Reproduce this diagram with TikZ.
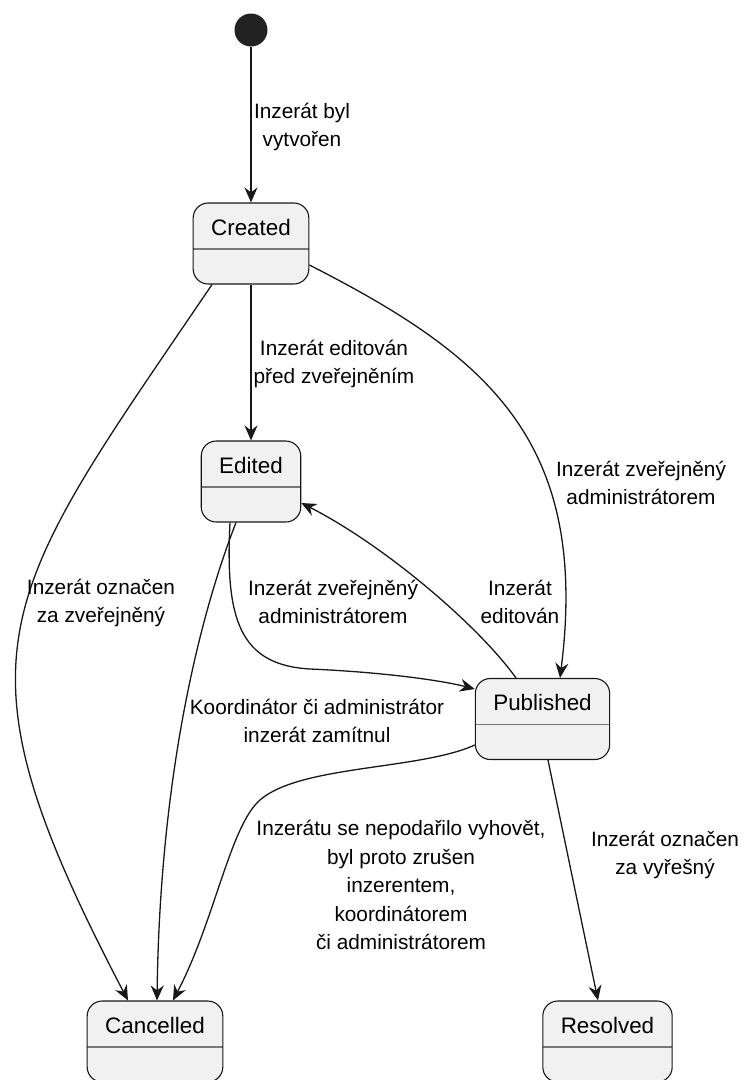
\documentclass[tikz,border=0pt]{standalone}
\usepackage{fontspec}
\setmainfont{Liberation Sans}
\usetikzlibrary{arrows.meta}
\definecolor{statefill}{HTML}{F1F1F1}
\definecolor{stateline}{HTML}{181818}
\definecolor{splitline}{HTML}{777777}
\definecolor{startfill}{HTML}{222222}

\begin{document}
\begin{tikzpicture}[x=1pt, y=-1pt,
		>={Stealth[length=15pt, width=13pt, inset=5pt]},
		state/.style={draw=stateline, fill=statefill, line width=1.1pt,
			rounded corners=15pt, font=\fontsize{22.4}{26}\selectfont,
			inner xsep=18pt, inner ysep=0pt, text height=32pt, text depth=49pt,
			path picture={\draw[splitline, line width=1.1pt]
				([yshift=-5.5pt]path picture bounding box.west) --
				([yshift=-5.5pt]path picture bounding box.east);}},
		tr/.style={->, draw=stateline, line width=1.3pt},
		lbl/.style={font=\fontsize{20.8}{28.5}\selectfont, align=center,
			inner sep=0pt, text=black}
	]
	\useasboundingbox (0,0) rectangle (744,1080);
	
	% etats
	\node[circle, fill=startfill, minimum size=33pt, inner sep=0pt] (start) at (251,30) {};
	\node[state] (created) at (251,243.5) {Created};
	\node[state] (edited) at (251,481.5) {Edited};
	\node[state] (published) at (542.5,719) {Published};
	\node[state] (cancelled) at (155,1041.5) {Cancelled};
	\node[state] (resolved) at (607.5,1041.5) {Resolved};
	
	% prechody
	\draw[tr] (start) -- (created);
	\draw[tr] (created) -- (edited);
	\draw[tr] ([xshift=-39pt]created.south) .. controls (-2,600) and (-56,649) .. ([xshift=-27pt]cancelled.north);
	\draw[tr] ([yshift=-21.5pt]created.east) .. controls (486,355) and (590,440) .. ([xshift=17.5pt]published.north);
	\draw[tr] ([xshift=-21pt]edited.south) .. controls (225,620) and (240,665) .. (310,669)
		.. controls (380,672) and (440,680) .. ([yshift=30pt]published.west);
	\draw[tr] ([xshift=-26.5pt]published.north) .. controls (478,625) and (384,545) .. ([yshift=-21.5pt]edited.east);
	\draw[tr] ([xshift=-15pt]edited.south) .. controls (198,620) and (160,780) .. ([xshift=2pt]cancelled.north);
	\draw[tr] ([yshift=-26pt]published.west) .. controls (420,770) and (300,765) .. (260,800)
		.. controls (230,826) and (215,920) .. ([xshift=18pt]cancelled.north);
	\draw[tr] ([xshift=5.5pt]published.south) -- ([xshift=-9.5pt]resolved.north);
	
	% popisky
	\node[lbl] (l-create) at (302,127) {Inzerát byl\\vytvořen};
	\node[lbl] (l-edit) at (334,364) {Inzerát editován\\před zveřejněním};
	\node[lbl] (l-mark) at (101,603) {Inzerát označen\\za zveřejněný};
	\node[lbl] (l-pub1) at (641,483) {Inzerát zveřejněný\\administrátorem};
	\node[lbl] (l-pub2) at (333,602) {Inzerát zveřejněný\\administrátorem};
	\node[lbl] (l-reedit) at (520,602) {Inzerát\\editován};
	\node[lbl] (l-reject) at (317,721) {Koordinátor či administrátor\\inzerát zamítnul};
	\node[lbl] (l-cancel) at (401,885) {Inzerátu se nepodařilo vyhovět,\\byl proto zrušen\\inzerentem,\\koordinátorem\\či administrátorem};
	\node[lbl] (l-solve) at (665,855) {Inzerát označen\\za vyřešný};
\end{tikzpicture}
\end{document}
